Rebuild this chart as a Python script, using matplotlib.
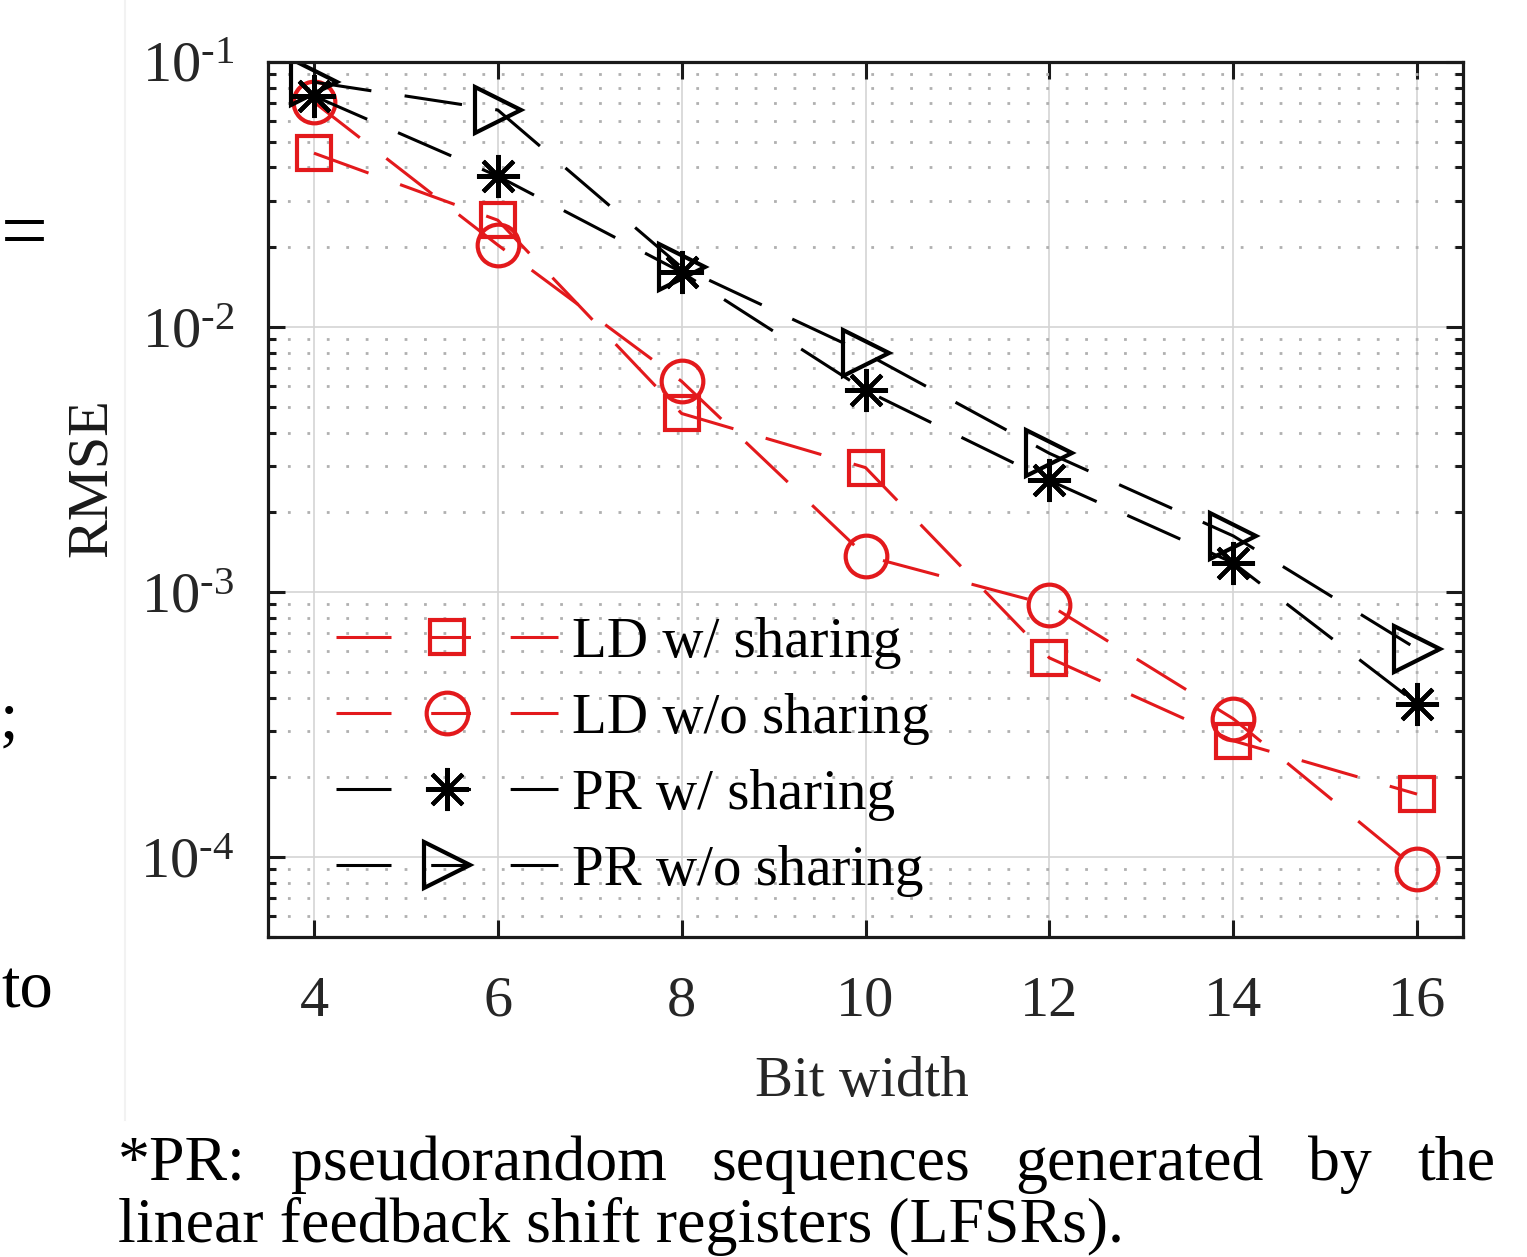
import numpy as np
import matplotlib.pyplot as plt
from matplotlib.lines import Line2D
from matplotlib.ticker import LogLocator, NullFormatter, FuncFormatter

plt.rcParams['font.family'] = 'Liberation Serif'
plt.rcParams['mathtext.fontset'] = 'custom'
plt.rcParams['mathtext.rm'] = 'Liberation Serif'
plt.rcParams['mathtext.default'] = 'regular'

# data
bits = [4, 6, 8, 10, 12, 14, 16]
ld_share = [0.0453, 0.0253, 0.00472, 0.00295, 5.65e-4, 2.75e-4, 1.73e-4]
ld_noshare = [0.0706, 0.0204, 0.00624, 0.00137, 8.95e-4, 3.33e-4, 9.0e-5]
pr_share = [0.0744, 0.0371, 0.0161, 0.00577, 0.00264, 0.00129, 3.79e-4]
pr_noshare = [0.084, 0.0659, 0.0168, 0.00796, 0.00334, 0.00163, 6.1e-4]
labels = ['LD w/ sharing', 'LD w/o sharing', 'PR w/ sharing', 'PR w/o sharing']

caption1 = ['*PR:', 'pseudorandom', 'sequences', 'generated', 'by', 'the']
caption2 = 'linear feedback shift registers (LFSRs).'

W, H = 1527, 1257
fig = plt.figure(figsize=(W / 100, H / 100), dpi=100)
ax = fig.add_axes([268 / W, 1 - 937 / H, (1463 - 268) / W, (937 - 62) / H])

red = '#e3191c'
lw = 2.2
dash = (19, 11)
styles = [
    dict(color=red, marker='s', ms=25),
    dict(color=red, marker='o', ms=30),
    dict(color='black', marker=(8, 2, 0), ms=31),
    dict(color='black', marker='>', ms=33),
]
series = [ld_share, ld_noshare, pr_share, pr_noshare]

for y, st in zip(series, styles):
    ax.plot(bits, y, color=st['color'], lw=lw, dashes=dash,
            marker=st['marker'], ms=st['ms'], mfc='none', mew=3,
            mec=st['color'])

ax.set_yscale('log')
ax.set_xlim(3.5, 16.5)
ax.set_ylim(5e-5, 1e-1)
ax.set_xticks(bits)
ax.yaxis.set_major_locator(LogLocator(base=10, numticks=10))
ax.yaxis.set_minor_locator(LogLocator(base=10, subs=np.arange(2, 10), numticks=20))
ax.yaxis.set_minor_formatter(NullFormatter())
ax.yaxis.set_major_formatter(FuncFormatter(
    lambda v, p: '$10^{\u2010%d}$' % round(-np.log10(v))))

ax.grid(True, which='major', color='#d4d4d4', lw=1.2, ls='-')
ax.grid(True, which='minor', axis='y', color='#b0b0b0', lw=2, ls=(0, (1, 6)))
ax.set_axisbelow(True)

for s in ax.spines.values():
    s.set_linewidth(2.3)
    s.set_color('#1a1a1a')
ax.tick_params(which='both', direction='in', top=True, right=True,
               width=2.2, colors='#1a1a1a', labelcolor='#262626', labelsize=42)
ax.tick_params(which='major', length=12)
ax.tick_params(which='minor', length=6)
ax.tick_params(axis='x', pad=28)
ax.tick_params(axis='y', pad=24)

ax.set_xlabel('Bit width', fontsize=41, color='#262626')
ax.set_ylabel('RMSE', fontsize=42, color='#1a1a1a')
ax.xaxis.set_label_coords((862 - 268) / (1463 - 268), -(1056 - 937) / (937 - 62))
ax.yaxis.set_label_coords(-(268 - 118) / (1463 - 268), (937 - 478) / (937 - 62))

# legend handles with symmetric dashes around the marker
handles = []
for st in styles:
    h = Line2D([], [], color=st['color'], lw=lw, marker=st['marker'],
               ms=st['ms'], mfc='none', mew=3, mec=st['color'])
    h.set_dashes((18, 13, 13, 13, 18, 60))
    handles.append(h)
ax.legend(handles, labels, loc='lower left', frameon=False, fontsize=41,
          bbox_to_anchor=(0.057, 0.046), borderaxespad=0, borderpad=0,
          handlelength=3.9, handletextpad=0.25, labelspacing=0.42)

# faint border of the figure panel
fig.add_artist(Line2D([125 / W, 125 / W], [1 - 1120 / H, 1], color='#f2f2f2', lw=1.5))

# fragments of surrounding page text at the left edge
fig.text(1 / W, 1 - 258 / H, '=', fontsize=60, ha='left', va='baseline')
fig.text(0 / W, 1 - 738 / H, ';', fontsize=48, ha='left', va='baseline')
fig.text(1 / W, 1 - 1008 / H, 'to', fontsize=48, ha='left', va='baseline')

# caption, first line justified
fig.canvas.draw()
r = fig.canvas.get_renderer()
words = [fig.text(0, 1 - 1180 / H, w, fontsize=46, ha='left', va='baseline')
         for w in caption1]
widths = [t.get_window_extent(r).width for t in words]
left, right = 118, 1495
gap = (right - left - sum(widths)) / (len(words) - 1)
x = left
for t, w in zip(words, widths):
    t.set_x(x / W)
    x += w + gap
fig.text(left / W, 1 - 1242 / H, caption2, fontsize=46, ha='left', va='baseline')

fig.savefig('out.png', dpi=100)
